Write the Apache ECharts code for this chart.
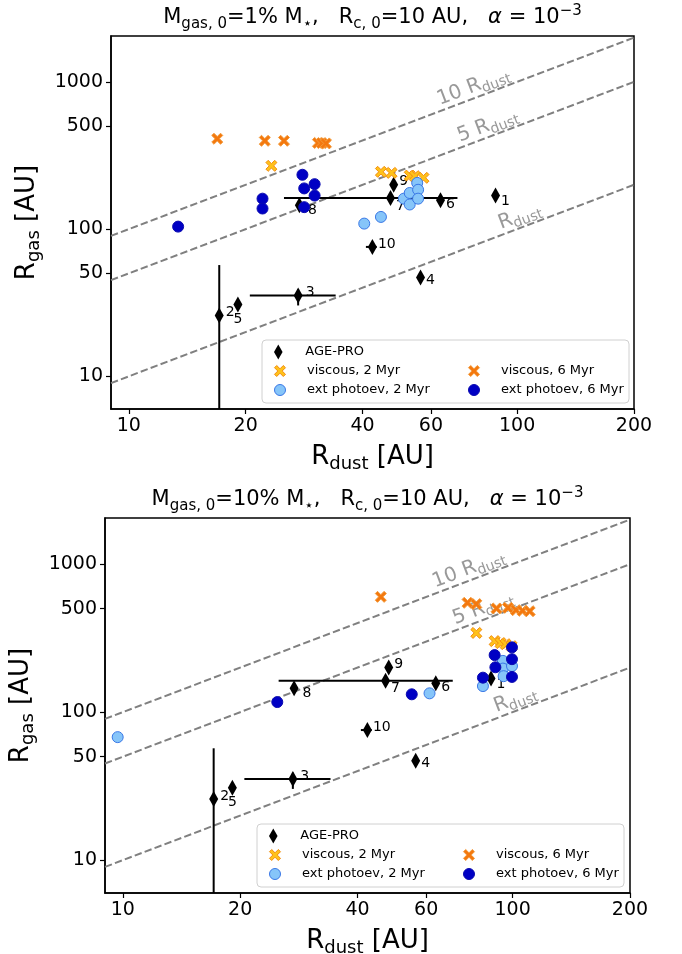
<!DOCTYPE html>
<html>
<head>
<meta charset="utf-8">
<script src="https://cdn.jsdelivr.net/npm/echarts@6/dist/echarts.min.js"></script>
<style>
  html, body { margin: 0; padding: 0; background: #fff; }
  #chart { width: 682px; height: 954px; }
</style>
</head>
<body>
<div id="chart"></div>
<script>
const FONT = 'DejaVu Sans';

// axes
const xTicks = [10, 20, 40, 60, 100, 200];
const yTicks = [10, 50, 100, 500, 1000];
const xRange = [9, 200];
const yRange = [6, 2050];

// guide lines R_gas = k * R_dust
const guideFactor = [10, 5, 1];
const guideTagAt = [79, 86, 104];   // R_dust where the guide names sit
const guideTag = ['{n|10 R}{s|dust}', '{n|5 R}{s|dust}', '{n|R}{s|dust}'];

// AGE-PRO observations (same in both panels)
const obsId = ['1', '2', '3', '4', '5', '6', '7', '8', '9', '10'];
const obsRdust = [88.0, 17.1, 27.3, 56.4, 19.1, 63.5, 47.2, 27.5, 48.1, 42.4];
const obsRgas = [169, 25.9, 35.4, 46.9, 30.8, 157, 163, 145, 200, 75.7];
const obsRdustErr = [null, null, [20.5, 34.1], null, null, null, [25.1, 70.2], null, null, [40.8, 43.5]];
const obsRgasErr = [null, [6, 57], [30.3, 39.0], null, null, null, null, null, null, null];

// panel 1: Mgas,0 = 1% M*
const visc2Dust1 = [23.3, 44.6, 47.5, 52.9, 54.5, 57.4];
const visc2Gas1 = [269, 245, 241, 231, 229, 223];
const visc6Dust1 = [16.9, 22.4, 25.1, 30.7, 31.4, 32.2];
const visc6Gas1 = [411, 398, 398, 385, 384, 382];
const phot2Dust1 = [40.4, 44.6, 51.1, 52.9, 52.9, 55.3, 55.6, 55.6];
const phot2Gas1 = [109, 121, 161, 176, 147, 206, 185, 161];
const phot6Dust1 = [13.4, 22.1, 22.1, 28.0, 28.3, 30.1, 30.1, 28.3];
const phot6Gas1 = [104, 161, 138, 234, 189, 202, 169, 141];

// panel 2: Mgas,0 = 10% M*
const visc2Dust2 = [80.7, 89.9, 93.1, 95.9, 99.4];
const visc2Gas2 = [343, 302, 293, 288, 279];
const visc6Dust2 = [45.9, 76.6, 80.7, 90.9, 97.3, 102, 106, 110.6];
const visc6Gas2 = [601, 548, 537, 502, 507, 489, 484, 481];
const phot2Dust2 = [9.7, 61.2, 83.9, 94.4, 94.4, 94.8, 99.6];
const phot2Gas2 = [67.8, 134, 150, 222, 197, 175, 205];
const phot6Dust2 = [24.9, 55.1, 83.9, 89.9, 90.3, 99.6, 99.6, 99.6];
const phot6Gas2 = [117, 132, 171, 243, 201, 274, 228, 173];

const crossPath = 'path://M0,2 L2,0 L5,3 L8,0 L10,2 L7,5 L10,8 L8,10 L5,7 L2,10 L0,8 L3,5 Z';
const diamondPath = 'path://M4,0 L8,7 L4,14 L0,7 Z';

// number tag nudges [dx, dy] next to each diamond
const tagNudge = {
  '1': [0, 6], '2': [1, -3], '3': [2, -3], '4': [0, 3], '6': [0, 4],
  '7': [0, 8], '8': [3, 5], '9': [0, -3], '10': [0, -3]
};

const panels = [
  {
    grid: {left: 111, top: 36, width: 523, height: 373},
    titleY: 18,
    titleText: '{m|M}{s|gas, 0}{m|=1% M}{s|⋆}{m|,   R}{s|c, 0}{m|=10 AU,   }{i|α}{m| = 10}{u|−3}',
    box: {x: 262, y: 340},
    visc2: [visc2Dust1, visc2Gas1], visc6: [visc6Dust1, visc6Gas1],
    phot2: [phot2Dust1, phot2Gas1], phot6: [phot6Dust1, phot6Gas1]
  },
  {
    grid: {left: 105, top: 518, width: 525, height: 375},
    titleY: 500,
    titleText: '{m|M}{s|gas, 0}{m|=10% M}{s|⋆}{m|,   R}{s|c, 0}{m|=10 AU,   }{i|α}{m| = 10}{u|−3}',
    box: {x: 257, y: 824},
    visc2: [visc2Dust2, visc2Gas2], visc6: [visc6Dust2, visc6Gas2],
    phot2: [phot2Dust2, phot2Gas2], phot6: [phot6Dust2, phot6Gas2]
  }
];

const styles = {
  visc2: {name: 'viscous, 2 Myr', symbol: crossPath, size: 11, color: '#ffc21a', border: '#f28c0f'},
  visc6: {name: 'viscous, 6 Myr', symbol: crossPath, size: 11, color: '#f4780e', border: '#f39a3a'},
  phot2: {name: 'ext photoev, 2 Myr', symbol: 'circle', size: 11, color: '#86c5f9', border: '#3a78e6'},
  phot6: {name: 'ext photoev, 6 Myr', symbol: 'circle', size: 11, color: '#0000c4', border: '#0b0bb0'}
};

const titleRich = {
  m: {fontFamily: FONT, fontSize: 21, lineHeight: 28, color: '#000'},
  s: {fontFamily: FONT, fontSize: 15, lineHeight: 13, verticalAlign: 'bottom', color: '#000'},
  i: {fontFamily: FONT, fontSize: 21, lineHeight: 28, fontStyle: 'italic', color: '#000'},
  u: {fontFamily: FONT, fontSize: 15, lineHeight: 13, verticalAlign: 'top', color: '#000'}
};
const nameRich = {
  m: {fontFamily: FONT, fontSize: 26, lineHeight: 32, color: '#000'},
  s: {fontFamily: FONT, fontSize: 18, lineHeight: 14, verticalAlign: 'bottom', color: '#000'}
};
const guideRich = {
  n: {fontFamily: FONT, fontSize: 20, lineHeight: 25, color: '#808080'},
  s: {fontFamily: FONT, fontSize: 14, lineHeight: 12, verticalAlign: 'bottom', color: '#808080'}
};

const option = {
  animation: false,
  backgroundColor: '#fff',
  grid: [], xAxis: [], yAxis: [], series: [], legend: [], graphic: []
};

panels.forEach(function (p, i) {
  option.grid.push(Object.assign({show: true, borderColor: '#000', borderWidth: 1.5, outerBoundsMode: 'none'}, p.grid));

  option.xAxis.push({
    gridIndex: i, type: 'log', logBase: 10, min: xRange[0], max: xRange[1],
    axisLine: {show: true, onZero: false, lineStyle: {color: '#000', width: 1.5}},
    axisTick: {show: true, customValues: xTicks, length: 5, lineStyle: {color: '#000', width: 1.2}},
    minorTick: {show: false},
    axisLabel: {customValues: xTicks, color: '#000', fontFamily: FONT, fontSize: 19, margin: 8,
      formatter: function (v) { return String(Math.round(v)); }},
    splitLine: {show: false},
    name: '{m|R}{s|dust}{m| [AU]}', nameLocation: 'middle', nameGap: 32,
    nameTextStyle: {rich: nameRich}
  });
  option.yAxis.push({
    gridIndex: i, type: 'log', logBase: 10, min: yRange[0], max: yRange[1],
    axisLine: {show: true, onZero: false, lineStyle: {color: '#000', width: 1.5}},
    axisTick: {show: true, customValues: yTicks, length: 5, lineStyle: {color: '#000', width: 1.2}},
    minorTick: {show: false},
    axisLabel: {customValues: yTicks, color: '#000', fontFamily: FONT, fontSize: 19, margin: 8,
      formatter: function (v) { return String(Math.round(v)); }},
    splitLine: {show: false},
    name: '{m|R}{s|gas}{m| [AU]}', nameLocation: 'middle', nameGap: 64,
    nameTextStyle: {rich: nameRich}
  });

  // dashed guides
  guideFactor.forEach(function (k) {
    option.series.push({
      type: 'line', xAxisIndex: i, yAxisIndex: i, silent: true, symbol: 'none', z: 1,
      lineStyle: {color: '#808080', width: 2, type: [7.4, 3.2]},
      data: [[xRange[0], xRange[0] * k], [xRange[1], xRange[1] * k]]
    });
  });
  const pxPerDecX = p.grid.width / (Math.log10(xRange[1]) - Math.log10(xRange[0]));
  const pxPerDecY = p.grid.height / (Math.log10(yRange[1]) - Math.log10(yRange[0]));
  const angle = Math.atan(pxPerDecY / pxPerDecX) * 180 / Math.PI;
  option.series.push({
    type: 'scatter', xAxisIndex: i, yAxisIndex: i, silent: true, symbolSize: 0, z: 2,
    data: guideTagAt.map(function (x, k) { return [x, x * guideFactor[k]]; }),
    label: {show: true, position: 'inside', rotate: angle, offset: [0, -11],
      formatter: function (d) { return guideTag[d.dataIndex]; }, rich: guideRich}
  });

  // error bars
  option.series.push({
    type: 'custom', xAxisIndex: i, yAxisIndex: i, silent: true, z: 3, clip: true,
    data: obsRdust.map(function (x, k) { return [x, obsRgas[k]]; }),
    renderItem: function (params, api) {
      const k = params.dataIndex;
      const x = api.value(0), y = api.value(1);
      const kids = [];
      const st = {stroke: '#000', lineWidth: 2};
      if (obsRdustErr[k]) {
        const a = api.coord([obsRdustErr[k][0], y]), b = api.coord([obsRdustErr[k][1], y]);
        kids.push({type: 'line', shape: {x1: a[0], y1: a[1], x2: b[0], y2: b[1]}, style: st});
      }
      if (obsRgasErr[k]) {
        const a = api.coord([x, obsRgasErr[k][0]]), b = api.coord([x, obsRgasErr[k][1]]);
        kids.push({type: 'line', shape: {x1: a[0], y1: a[1], x2: b[0], y2: b[1]}, style: st});
      }
      return {type: 'group', children: kids};
    }
  });

  // observations
  option.series.push({
    type: 'scatter', name: 'AGE-PRO', xAxisIndex: i, yAxisIndex: i, z: 4,
    symbol: 'diamond', symbolSize: [9, 16], itemStyle: {color: '#000', opacity: 1},
    data: obsRdust.map(function (x, k) {
      const id = obsId[k];
      const n = tagNudge[id];
      const lab = n ? {position: 'right', distance: 1, offset: n} : {position: 'bottom', distance: 0};
      return {value: [x, obsRgas[k]], label: lab};
    }),
    label: {show: true, color: '#000', fontFamily: FONT, fontSize: 14,
      formatter: function (d) { return obsId[d.dataIndex]; }}
  });

  // models
  ['visc2', 'visc6', 'phot2', 'phot6'].forEach(function (key) {
    const s = styles[key];
    const xs = p[key][0], ys = p[key][1];
    option.series.push({
      type: 'scatter', name: s.name, xAxisIndex: i, yAxisIndex: i, z: 5,
      symbol: s.symbol, symbolSize: s.size,
      itemStyle: {color: s.color, borderColor: s.border, borderWidth: 1, opacity: 1},
      data: xs.map(function (x, k) { return [x, ys[k]]; })
    });
  });

  // title
  option.graphic.push({
    type: 'text', x: p.grid.left + p.grid.width / 2, y: p.titleY, z: 10,
    style: {text: p.titleText, rich: titleRich, align: 'center', verticalAlign: 'middle'}
  });

  // legend frame
  option.graphic.push({
    type: 'rect', x: p.box.x, y: p.box.y, z: 1,
    shape: {width: 367, height: 63, r: 4},
    style: {fill: 'rgba(255,255,255,0.85)', stroke: '#d0d0d0', lineWidth: 1}
  });
  const entries = [
    {name: 'AGE-PRO', icon: diamondPath, col: 0, row: 0, h: 15},
    {name: styles.visc2.name, icon: crossPath, col: 0, row: 1, h: 11},
    {name: styles.phot2.name, icon: 'circle', col: 0, row: 2, h: 11},
    {name: styles.visc6.name, icon: crossPath, col: 1, row: 1, h: 11},
    {name: styles.phot6.name, icon: 'circle', col: 1, row: 2, h: 11}
  ];
  const colX = [34, 228], rowY = [12, 31, 50];
  entries.forEach(function (e) {
    option.legend.push({
      left: p.box.x + colX[e.col] - 22, top: p.box.y + rowY[e.row] - 8,
      padding: 0, itemWidth: 44, itemHeight: e.h, selectedMode: false, z: 6,
      itemStyle: {borderWidth: 1},
      textStyle: {fontFamily: FONT, fontSize: 13, lineHeight: 16, color: '#000'},
      data: [{name: e.name, icon: e.icon}]
    });
  });
});

const chart = echarts.init(document.getElementById('chart'), null, {renderer: 'canvas'});
chart.setOption(option);
</script>
</body>
</html>
